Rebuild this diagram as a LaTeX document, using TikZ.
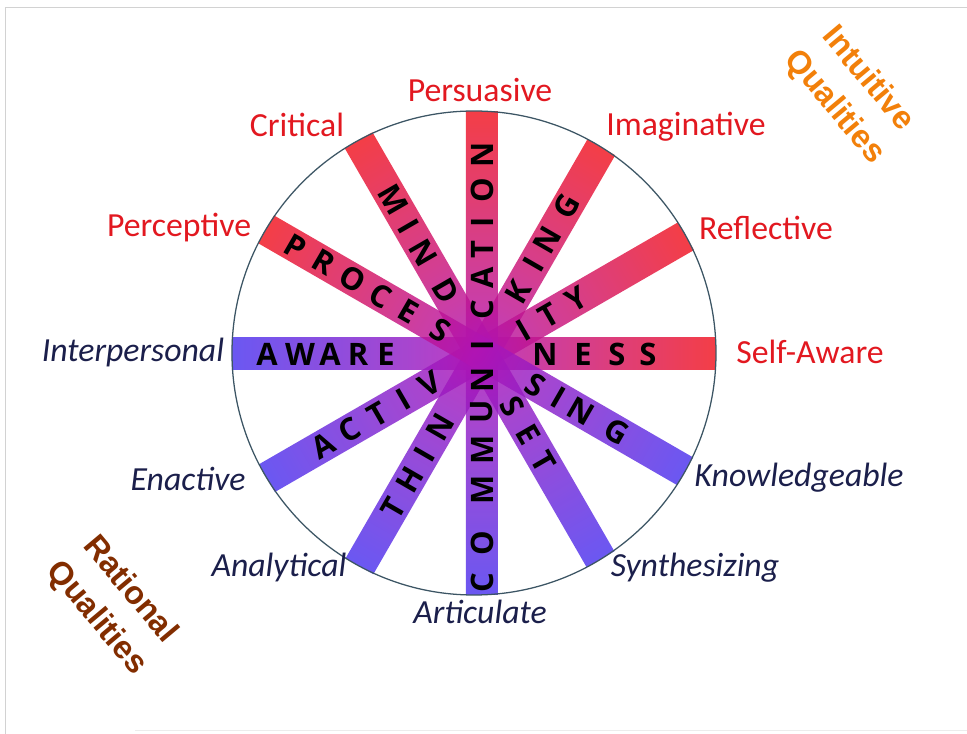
\documentclass[tikz,border=0pt]{standalone}
\usepackage{fontspec}
\setmainfont{Carlito}
\newfontfamily\letrafont{Open Sans}
\newfontfamily\wordartfont{Liberation Sans}
\usetikzlibrary{calc}
\definecolor{RaioAzul}{RGB}{74,51,239}
\definecolor{RaioMagenta}{RGB}{176,20,180}
\definecolor{RaioVermelho}{RGB}{241,20,30}
\definecolor{RotVermelho}{RGB}{226,24,32}
\definecolor{RotAzul}{RGB}{27,31,75}
\definecolor{Contorno}{RGB}{60,85,100}
\definecolor{QualIntuitiva}{RGB}{242,128,10}
\definecolor{QualRacional}{RGB}{130,45,0}
\tikzset{
  barra/.style={left color=RaioAzul, right color=RaioVermelho, middle color=RaioMagenta,
                fill opacity=0.82},
  letra/.style={font=\letrafont\bfseries\fontsize{22}{22}\selectfont, inner sep=0pt, text=black},
  rotulo/.style={font=\fontsize{24}{24}\selectfont, text=RotVermelho, inner sep=0pt},
  rotuloazul/.style={font=\itshape\fontsize{24}{24}\selectfont, text=RotAzul, inner sep=0pt},
  qualidade/.style={font=\wordartfont\bfseries\fontsize{23}{31}\selectfont, align=center,
                    rotate=-50, inner sep=0pt},
}

\begin{document}
\begin{tikzpicture}[x=0.025cm, y=0.025cm]
  \useasboundingbox (-482,-380) rectangle (485,354);

  % moldura clara
  \draw[gray!35, line width=0.5pt] (-477,-380) -- (-477,347) -- (485,347);
  \draw[gray!15, line width=0.5pt] (-347,-376) -- (485,-376);

  % barras: azul em baixo, vermelho em cima
  \foreach \ang in {0,30,...,150}{
    \pgfmathsetmacro\du{0.08*cos(\ang)-0.01*sin(\ang)}
    \pgfmathsetmacro\tv{100*(sqrt(\du*\du+5.8499)-\du)}
    \pgfmathsetmacro\ta{100*(sqrt(\du*\du+5.8499)+\du)}
    \shade[barra, transform canvas={rotate=\ang}] (-\ta,-16) rectangle (\tv,16);
  }

  % roda
  \coordinate (centro) at (-8,1);
  \draw[Contorno, line width=0.9pt] (centro) circle[radius=242];

  % palavras ao longo das barras (direcao de leitura / letra / distancia)
  \foreach \dir/\lista in {
      0/{A/-215,W/-182,A/-152,R/-124,E/-96,N/63,E/101,S/135,S/166},
      -30/{P/-215,R/-183,O/-149,C/-117,E/-85,S/-48,S/62,I/88,N/114,G/156},
      -60/{M/-178,I/-147,N/-117,D/-73,S/61,E/93,T/124},
      90/{C/-229,O/-189,M/-136,M/-96,U/-58,N/-26,I/9,C/44,A/76,T/104,I/132,O/164,N/199},
      60/{T/-178,H/-145,I/-116,N/-84,K/72,I/103,N/131,G/170},
      30/{A/-183,C/-153,T/-120,I/-91,V/-60,I/48,T/77,Y/109}}{
    \foreach \l/\d [count=\k] in \lista
      \node[letra, rotate=\dir] (l\dir-\k) at (\dir:\d) {\l};
  }

  % qualidades em volta
  \node[rotulo] (persuasive) at (-2,264) {Persuasive};
  \node[rotulo] (critical) at (-185,229) {Critical};
  \node[rotulo] (imaginative) at (204,227) {Imaginative};
  \node[rotulo] (perceptive) at (-303,126) {Perceptive};
  \node[rotulo] (reflective) at (284,126) {Reflective};
  \node[rotulo] (selfaware) at (328,2) {Self-Aware};
  \node[rotuloazul] (interpersonal) at (-349,1) {Interpersonal};
  \node[rotuloazul] (enactive) at (-294,-125) {Enactive};
  \node[rotuloazul] (knowledgeable) at (317,-124) {Knowledgeable};
  \node[rotuloazul] (analytical) at (-203,-214) {Analytical};
  \node[rotuloazul] (synthesizing) at (213,-214) {Synthesizing};
  \node[rotuloazul] (articulate) at (-2,-258) {Articulate};

  \node[qualidade, text=QualIntuitiva] (intuitivas) at (369,261) {Intuitive\\Qualities};
  \node[qualidade, text=QualRacional] (racionais) at (-369,-250) {Rational\\Qualities};
\end{tikzpicture}
\end{document}
